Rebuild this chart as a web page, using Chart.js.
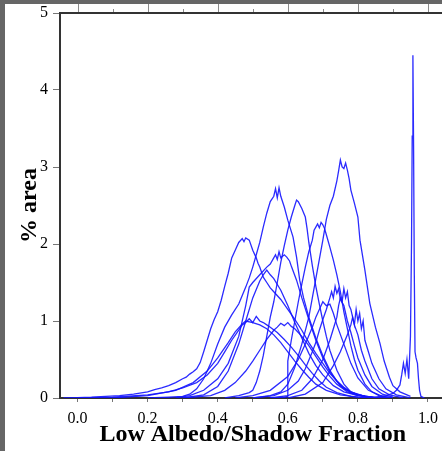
<!DOCTYPE html>
<html>
<head>
<meta charset="utf-8">
<script src="https://cdn.jsdelivr.net/npm/chart.js@4/dist/chart.umd.min.js"></script>
<style>
  html, body { margin: 0; padding: 0; background: #666; overflow: hidden; width: 442px; height: 451px; }
  #wrap { position: absolute; left: 5px; top: 4px; width: 450px; height: 447px; background: #fff; }
</style>
</head>
<body>
<div id="wrap"><canvas id="myChart" width="450" height="447"></canvas></div>
<script>
// each curve: fraction values (x) and % area values (y)
const c1x = [-0.04, 0.0, 0.04, 0.08, 0.12, 0.16, 0.2, 0.22, 0.24, 0.26, 0.28, 0.3, 0.31, 0.32, 0.33, 0.34, 0.35, 0.36, 0.37, 0.38, 0.39, 0.4, 0.41, 0.42, 0.43, 0.44, 0.45, 0.46, 0.47, 0.475, 0.48, 0.49, 0.5, 0.51, 0.515, 0.52, 0.53, 0.54, 0.55, 0.56, 0.58, 0.6, 0.62, 0.64, 0.66, 0.68, 0.7, 0.72, 0.74, 0.76, 0.78, 0.8, 0.84, 0.9];
const c1y = [0.0, 0.005, 0.01, 0.02, 0.03, 0.05, 0.08, 0.11, 0.13, 0.16, 0.2, 0.25, 0.27, 0.31, 0.34, 0.38, 0.46, 0.6, 0.75, 0.9, 1.02, 1.12, 1.27, 1.45, 1.62, 1.82, 1.92, 2.02, 2.07, 2.03, 2.08, 2.05, 1.92, 1.82, 1.75, 1.7, 1.57, 1.5, 1.43, 1.38, 1.28, 1.15, 1.02, 0.88, 0.72, 0.58, 0.45, 0.32, 0.22, 0.14, 0.08, 0.04, 0.01, 0.0];

const c2x = [0.2, 0.26, 0.3, 0.32, 0.34, 0.36, 0.38, 0.4, 0.42, 0.44, 0.46, 0.47, 0.48, 0.49, 0.5, 0.51, 0.52, 0.53, 0.54, 0.55, 0.56, 0.565, 0.57, 0.575, 0.58, 0.59, 0.6, 0.615, 0.625, 0.634, 0.645, 0.66, 0.68, 0.7, 0.72, 0.74, 0.76, 0.8, 0.85];
const c2y = [0.0, 0.01, 0.02, 0.05, 0.12, 0.25, 0.45, 0.7, 0.92, 1.08, 1.22, 1.33, 1.44, 1.56, 1.7, 1.86, 2.02, 2.22, 2.4, 2.55, 2.62, 2.72, 2.6, 2.73, 2.62, 2.48, 2.31, 2.09, 1.83, 1.53, 1.3, 1.05, 0.78, 0.55, 0.36, 0.22, 0.12, 0.04, 0.0];

const c3x = [0.42, 0.46, 0.49, 0.5, 0.51, 0.52, 0.53, 0.54, 0.55, 0.56, 0.57, 0.58, 0.59, 0.6, 0.61, 0.62, 0.625, 0.63, 0.64, 0.65, 0.655, 0.66, 0.67, 0.68, 0.69, 0.7, 0.71, 0.72, 0.74, 0.76, 0.78, 0.82, 0.86];
const c3y = [0.0, 0.03, 0.07, 0.1, 0.2, 0.35, 0.55, 0.8, 1.05, 1.25, 1.5, 1.76, 1.98, 2.18, 2.35, 2.5, 2.57, 2.55, 2.46, 2.35, 2.2, 2.02, 1.72, 1.45, 1.22, 1.0, 0.8, 0.62, 0.36, 0.18, 0.08, 0.02, 0.0];

const c4x = [0.55, 0.59, 0.6, 0.6, 0.61, 0.62, 0.63, 0.64, 0.65, 0.66, 0.67, 0.675, 0.68, 0.685, 0.69, 0.695, 0.7, 0.705, 0.71, 0.72, 0.73, 0.74, 0.75, 0.76, 0.77, 0.78, 0.79, 0.8, 0.82, 0.84, 0.86, 0.9];
const c4y = [0.0, 0.01, 0.02, 0.48, 0.75, 1.0, 1.25, 1.48, 1.7, 1.9, 2.05, 2.18, 2.22, 2.26, 2.21, 2.28, 2.25, 2.2, 2.12, 1.96, 1.79, 1.6, 1.38, 1.12, 0.9, 0.68, 0.5, 0.36, 0.18, 0.08, 0.03, 0.0];

const c5x = [0.5, 0.55, 0.58, 0.6, 0.62, 0.64, 0.66, 0.67, 0.68, 0.69, 0.7, 0.71, 0.72, 0.73, 0.74, 0.745, 0.75, 0.755, 0.76, 0.765, 0.77, 0.775, 0.78, 0.79, 0.8, 0.806, 0.82, 0.834, 0.85, 0.863, 0.875, 0.89, 0.9, 0.92, 0.95];
const c5y = [0.0, 0.03, 0.08, 0.18, 0.4, 0.7, 1.05, 1.3, 1.55, 1.8, 2.05, 2.32, 2.5, 2.62, 2.82, 2.95, 3.09, 3.0, 2.98, 3.05, 2.96, 2.85, 2.7, 2.53, 2.35, 2.05, 1.66, 1.23, 0.92, 0.71, 0.48, 0.27, 0.16, 0.08, 0.02];

const c6x = [0.8, 0.85, 0.88, 0.9, 0.91, 0.92, 0.925, 0.93, 0.935, 0.94, 0.945, 0.95, 0.953, 0.955, 0.957, 0.959, 0.961, 0.963, 0.966, 0.97, 0.973, 0.976, 0.98, 0.99];
const c6y = [0.0, 0.01, 0.03, 0.06, 0.1, 0.17, 0.3, 0.45, 0.32, 0.5, 0.25, 0.8, 2.0, 3.4, 4.45, 3.2, 1.6, 0.6, 0.52, 0.45, 0.25, 0.1, 0.02, 0.0];

const c7x = [0.28, 0.32, 0.36, 0.4, 0.43, 0.46, 0.48, 0.49, 0.5, 0.52, 0.54, 0.55, 0.56, 0.565, 0.57, 0.575, 0.58, 0.59, 0.597, 0.605, 0.611, 0.625, 0.64, 0.66, 0.68, 0.7, 0.72, 0.75, 0.78, 0.82, 0.86];
const c7y = [0.0, 0.03, 0.1, 0.25, 0.45, 0.8, 1.2, 1.44, 1.5, 1.6, 1.7, 1.74, 1.82, 1.86, 1.8, 1.9, 1.82, 1.86, 1.83, 1.78, 1.7, 1.53, 1.3, 1.02, 0.75, 0.52, 0.34, 0.16, 0.07, 0.02, 0.0];

const c8x = [0.3, 0.36, 0.4, 0.43, 0.46, 0.48, 0.5, 0.52, 0.53, 0.54, 0.55, 0.56, 0.58, 0.6, 0.62, 0.64, 0.66, 0.68, 0.7, 0.73, 0.76, 0.8, 0.85];
const c8y = [0.0, 0.04, 0.15, 0.35, 0.7, 1.0, 1.3, 1.52, 1.6, 1.66, 1.6, 1.55, 1.4, 1.2, 0.98, 0.78, 0.58, 0.42, 0.3, 0.16, 0.08, 0.03, 0.0];

const c9x = [0.0, 0.1, 0.2, 0.26, 0.3, 0.34, 0.37, 0.4, 0.42, 0.44, 0.46, 0.47, 0.48, 0.49, 0.5, 0.51, 0.52, 0.53, 0.54, 0.55, 0.57, 0.59, 0.61, 0.63, 0.65, 0.67, 0.69, 0.71, 0.74, 0.78, 0.82];
const c9y = [0.0, 0.01, 0.04, 0.08, 0.13, 0.2, 0.3, 0.45, 0.6, 0.75, 0.88, 0.95, 0.98, 1.03, 0.98, 1.06, 1.0, 0.98, 0.95, 0.92, 0.85, 0.76, 0.66, 0.55, 0.43, 0.32, 0.22, 0.14, 0.07, 0.02, 0.0];

const c10x = [0.1, 0.2, 0.28, 0.33, 0.37, 0.4, 0.43, 0.45, 0.47, 0.48, 0.5, 0.52, 0.54, 0.56, 0.58, 0.6, 0.62, 0.64, 0.66, 0.68, 0.71, 0.75, 0.8];
const c10y = [0.0, 0.03, 0.1, 0.2, 0.35, 0.52, 0.72, 0.86, 0.96, 1.0, 0.98, 0.95, 0.9, 0.82, 0.72, 0.6, 0.48, 0.37, 0.27, 0.18, 0.1, 0.04, 0.01];

const c11x = [0.3, 0.38, 0.42, 0.45, 0.48, 0.5, 0.52, 0.54, 0.56, 0.57, 0.58, 0.59, 0.6, 0.61, 0.62, 0.64, 0.66, 0.68, 0.7, 0.72, 0.74, 0.77, 0.8, 0.85];
const c11y = [0.0, 0.03, 0.1, 0.2, 0.35, 0.48, 0.62, 0.76, 0.88, 0.92, 0.97, 0.94, 0.98, 0.93, 0.9, 0.8, 0.68, 0.54, 0.4, 0.28, 0.18, 0.08, 0.03, 0.0];

const c12x = [0.5, 0.56, 0.6, 0.63, 0.65, 0.67, 0.68, 0.69, 0.7, 0.71, 0.72, 0.725, 0.73, 0.735, 0.74, 0.745, 0.75, 0.76, 0.77, 0.78, 0.79, 0.8, 0.82, 0.84, 0.87, 0.9];
const c12y = [0.0, 0.03, 0.1, 0.22, 0.38, 0.6, 0.72, 0.88, 1.02, 1.15, 1.3, 1.38, 1.3, 1.45, 1.36, 1.42, 1.28, 1.2, 1.0, 0.85, 0.68, 0.52, 0.3, 0.15, 0.05, 0.01];

const c13x = [0.55, 0.6, 0.64, 0.67, 0.7, 0.72, 0.73, 0.74, 0.745, 0.75, 0.755, 0.76, 0.765, 0.77, 0.775, 0.78, 0.79, 0.8, 0.81, 0.82, 0.84, 0.86, 0.89, 0.93];
const c13y = [0.0, 0.03, 0.1, 0.25, 0.5, 0.75, 0.9, 1.05, 1.2, 1.3, 1.25, 1.42, 1.3, 1.38, 1.2, 1.15, 0.95, 0.82, 0.62, 0.48, 0.25, 0.12, 0.04, 0.0];

const c14x = [0.6, 0.65, 0.7, 0.73, 0.75, 0.77, 0.78, 0.785, 0.79, 0.795, 0.8, 0.805, 0.81, 0.815, 0.82, 0.83, 0.84, 0.86, 0.88, 0.91, 0.95];
const c14y = [0.0, 0.05, 0.2, 0.42, 0.6, 0.82, 0.95, 1.05, 0.95, 1.15, 1.0, 1.1, 0.9, 1.0, 0.75, 0.6, 0.45, 0.25, 0.12, 0.04, 0.0];

const c15x = [0.45, 0.5, 0.55, 0.6, 0.63, 0.65, 0.67, 0.68, 0.69, 0.7, 0.71, 0.72, 0.73, 0.74, 0.76, 0.78, 0.8, 0.83, 0.87, 0.9];
const c15y = [0.0, 0.03, 0.1, 0.28, 0.5, 0.7, 0.92, 1.05, 1.15, 1.25, 1.2, 1.22, 1.1, 0.95, 0.7, 0.45, 0.26, 0.1, 0.02, 0.0];

const curves = [
    [c1x, c1y], [c2x, c2y], [c3x, c3y], [c4x, c4y], [c5x, c5y],
    [c6x, c6y], [c7x, c7y], [c8x, c8y], [c9x, c9y], [c10x, c10y],
    [c11x, c11y], [c12x, c12y], [c13x, c13y], [c14x, c14y], [c15x, c15y],
];

const xTicks = [0.0, 0.1, 0.2, 0.3, 0.4, 0.5, 0.6, 0.7, 0.8, 0.9, 1.0];
const yTicks = [0, 1, 2, 3, 4, 5];

const serif = 'Liberation Serif';

/**
 * Frame top edge plus the little outside ticks on the top axis
 */
const topAxisPlugin = {
    id: 'topAxis',
    afterDraw(chart) {
        const { ctx, chartArea } = chart;
        const x = chart.scales.x;
        ctx.save();
        ctx.strokeStyle = '#333';
        ctx.lineWidth = 2;
        ctx.beginPath();
        ctx.moveTo(chartArea.left - 1, chartArea.top);
        ctx.lineTo(chartArea.right + 1, chartArea.top);
        ctx.stroke();
        ctx.strokeStyle = '#8a8a8a';
        ctx.lineWidth = 1;
        xTicks.forEach((v, i) => {
            const px = Math.round(x.getPixelForValue(v)) + 0.5;
            const len = i % 2 === 0 ? 8 : 3;
            ctx.beginPath();
            ctx.moveTo(px, chartArea.top - 1);
            ctx.lineTo(px, chartArea.top - 1 - len);
            ctx.stroke();
        });
        ctx.restore();
    }
};

function renderChart() {
    const ctx = document.getElementById('myChart');
    new Chart(ctx, {
        type: 'line',
        data: {
            datasets: curves.map(([xs, ys]) => ({
                data: xs.map((v, i) => ({ x: v, y: ys[i] })),
                borderColor: 'rgba(20, 20, 255, 0.9)',
                borderWidth: 1.3,
                pointRadius: 0,
                tension: 0,
                fill: false,
            }))
        },
        options: {
            responsive: false,
            animation: false,
            layout: { padding: { top: 9, right: 9.5, left: 0, bottom: 0 } },
            plugins: { legend: { display: false }, tooltip: { enabled: false } },
            scales: {
                x: {
                    type: 'linear',
                    position: 'bottom',
                    min: -0.05,
                    max: 1.05,
                    afterFit: (scale) => {
                        scale.height = 53;
                        scale.paddingLeft = 0;
                        scale.paddingRight = 0;
                    },
                    afterBuildTicks: (scale) => { scale.ticks = xTicks.map((v) => ({ value: v })); },
                    border: { color: '#333', width: 2 },
                    grid: { drawOnChartArea: false, tickLength: 4, tickColor: '#777' },
                    ticks: {
                        includeBounds: false,
                        maxRotation: 0,
                        autoSkip: false,
                        padding: 7,
                        color: '#000',
                        font: { family: serif, size: 16 },
                        callback: (v, i) => (i % 2 === 0 ? Number(v).toFixed(1) : ''),
                    },
                    title: {
                        display: true,
                        text: 'Low Albedo/Shadow Fraction',
                        color: '#000',
                        font: { family: serif, size: 24, weight: 'bold', lineHeight: 1 },
                        padding: { top: 0, bottom: 4 },
                    },
                },
                y: {
                    min: 0,
                    max: 5,
                    afterFit: (scale) => {
                        scale.width = 55;
                        scale.paddingTop = 0;
                        scale.paddingBottom = 0;
                    },
                    afterBuildTicks: (scale) => { scale.ticks = yTicks.map((v) => ({ value: v })); },
                    border: { color: '#333', width: 2 },
                    grid: { drawOnChartArea: false, tickLength: 7, tickColor: '#777' },
                    ticks: {
                        padding: 5,
                        color: '#000',
                        font: { family: serif, size: 16 },
                    },
                    title: {
                        display: true,
                        text: '% area',
                        color: '#000',
                        font: { family: serif, size: 24, weight: 'bold', lineHeight: 1 },
                        padding: { top: 13, bottom: 0 },
                    },
                },
            },
        },
        plugins: [topAxisPlugin],
    });
}

renderChart();
</script>
</body>
</html>
